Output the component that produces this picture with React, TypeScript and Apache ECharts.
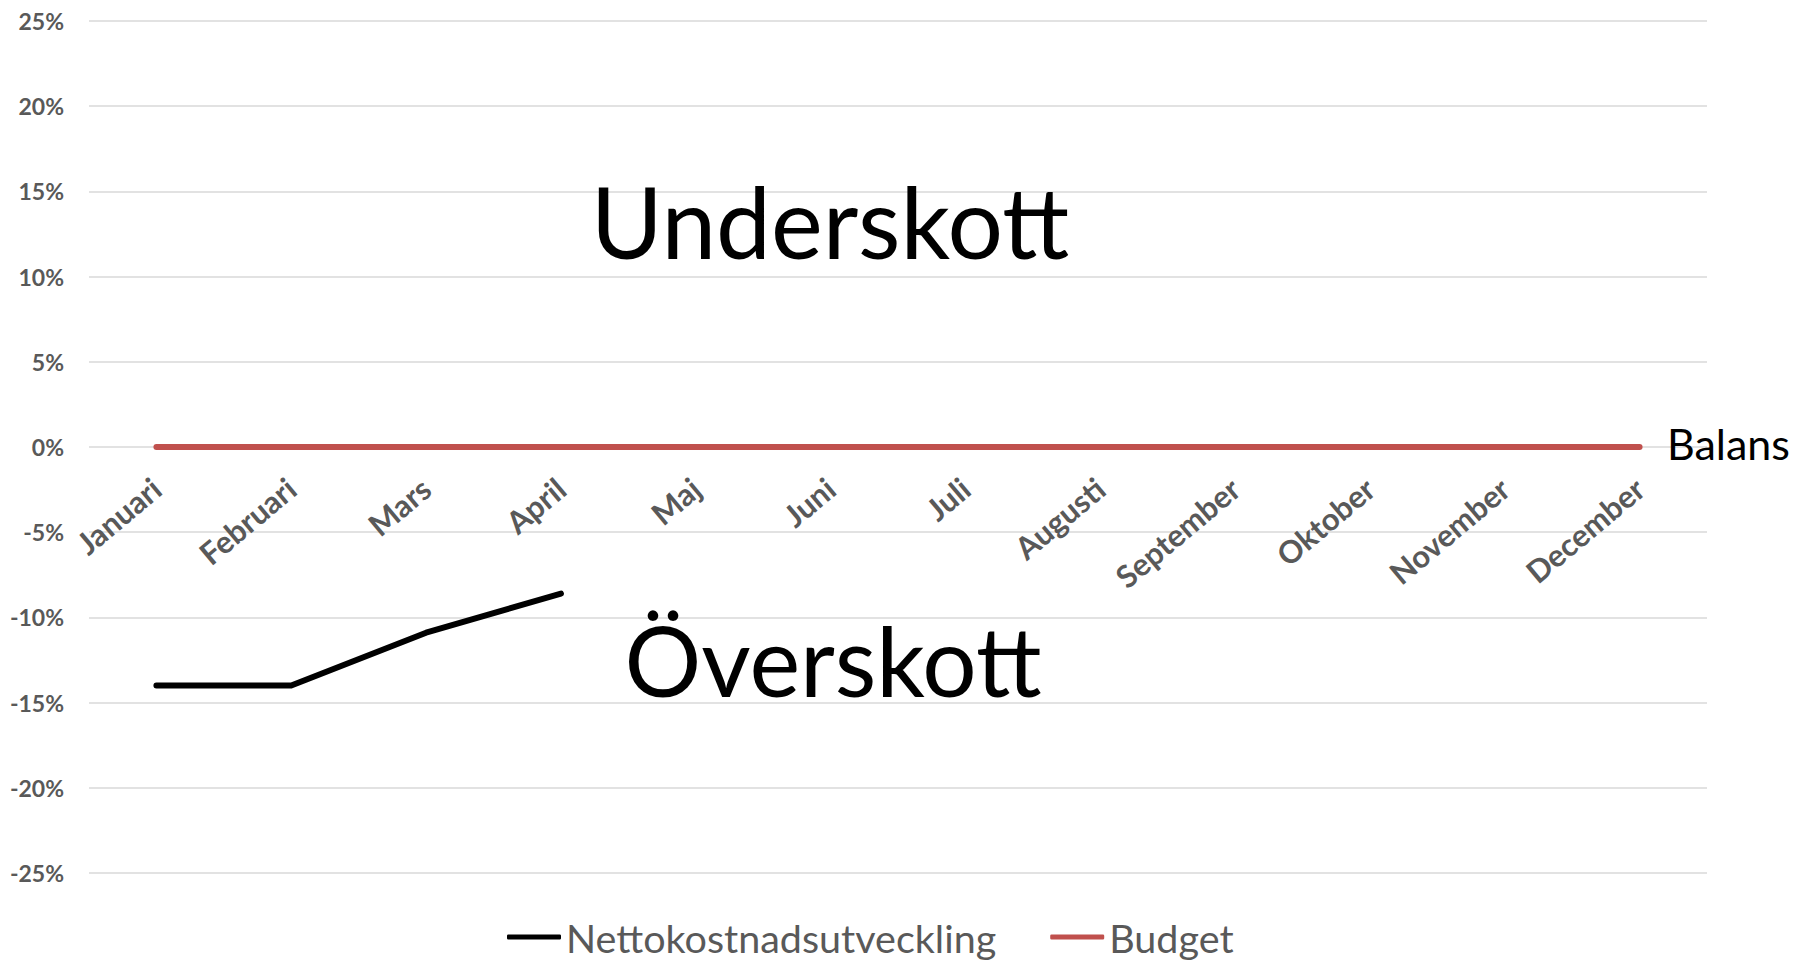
import React, { useEffect, useRef } from "react";
import * as echarts from "echarts";

const months = [
  "Januari", "Februari", "Mars", "April", "Maj", "Juni",
  "Juli", "Augusti", "September", "Oktober", "November", "December",
];
const nettoValues = [-14, -14, -10.9, -8.6];
const budgetValues = [0, 0, 0, 0, 0, 0, 0, 0, 0, 0, 0, 0];
const yMin = -25;
const yMax = 25;
const yStep = 5;
const seriesNames = ["Nettokostnadsutveckling", "Budget"];
const annotations = ["Underskott", "Överskott", "Balans"];

const GRID_TOP = 21;
const GRID_BOTTOM = 88;
const CHART_H = 961;

export default function App() {
  const ref = useRef<HTMLDivElement>(null);
  useEffect(() => {
    if (!ref.current) return;
    const chart = echarts.init(ref.current, null, { renderer: "svg" });
    const font = "Lato, 'Noto Sans', sans-serif";
    const gridH = CHART_H - GRID_TOP - GRID_BOTTOM;
    // place the category axis on the zero line of the value axis
    const zeroFromBottom = (gridH * (0 - yMin)) / (yMax - yMin);
    chart.setOption({
      animation: false,
      backgroundColor: "#ffffff",
      grid: {
        left: 89,
        right: 89,
        top: GRID_TOP,
        bottom: GRID_BOTTOM,
        containLabel: false,
        outerBoundsMode: "none",
      },
      legend: {
        left: 502,
        top: 912,
        itemWidth: 54,
        itemHeight: 5,
        itemGap: 54,
        icon: "roundRect",
        textStyle: {
          fontFamily: font,
          fontSize: 39.5,
          lineHeight: 40,
          color: "#595959",
        },
        data: seriesNames,
      },
      xAxis: {
        type: "category",
        data: months,
        boundaryGap: true,
        position: "bottom",
        offset: -zeroFromBottom,
        axisLine: { show: false, onZero: false },
        axisTick: { show: false },
        axisLabel: {
          interval: 0,
          rotate: 40,
          margin: 37,
          fontFamily: font,
          fontWeight: "bold",
          fontSize: 31,
          color: "#595959",
        },
        splitLine: { show: false },
      },
      yAxis: {
        type: "value",
        min: yMin,
        max: yMax,
        interval: yStep,
        axisLine: { show: false },
        axisTick: { show: false },
        axisLabel: {
          formatter: "{value}%",
          margin: 25,
          fontFamily: font,
          fontWeight: "bold",
          fontSize: 23,
          color: "#595959",
        },
        splitLine: { lineStyle: { color: "#D9D9D9", width: 1.5 } },
      },
      series: [
        {
          name: seriesNames[0],
          type: "line",
          data: nettoValues,
          symbol: "none",
          color: "#000000",
          lineStyle: { color: "#000000", width: 6, cap: "round", join: "round" },
          z: 3,
        },
        {
          name: seriesNames[1],
          type: "line",
          data: budgetValues,
          symbol: "none",
          color: "#C0504D",
          lineStyle: { color: "#C0504D", width: 6, cap: "round" },
          z: 2,
        },
      ],
      graphic: [
        {
          type: "text",
          x: 830,
          y: 221,
          z: 10,
          style: {
            text: annotations[0],
            fontFamily: font,
            fontSize: 98,
            fill: "#000000",
            textAlign: "center",
            align: "center",
            textVerticalAlign: "middle",
            verticalAlign: "middle",
          },
        },
        {
          type: "text",
          x: 833,
          y: 659,
          z: 10,
          style: {
            text: annotations[1],
            fontFamily: font,
            fontSize: 96,
            fill: "#000000",
            textAlign: "center",
            align: "center",
            textVerticalAlign: "middle",
            verticalAlign: "middle",
          },
        },
        {
          type: "text",
          x: 1667,
          y: 443,
          z: 10,
          style: {
            text: annotations[2],
            fontFamily: font,
            fontSize: 43,
            fill: "#000000",
            textAlign: "left",
            align: "left",
            textVerticalAlign: "middle",
            verticalAlign: "middle",
          },
        },
      ],
    });
    return () => chart.dispose();
  }, []);
  return (
    <div
      ref={ref}
      style={{ position: "absolute", left: 0, top: 0, width: 1796, height: 961 }}
    />
  );
}
